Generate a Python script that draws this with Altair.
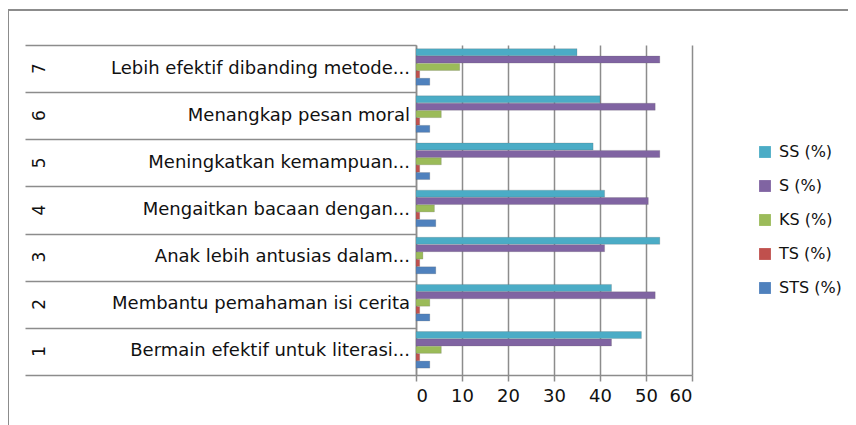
import altair as alt
import pandas as pd

nomor = ["1", "2", "3", "4", "5", "6", "7"]
pernyataan = [
    "Bermain efektif untuk literasi...",
    "Membantu pemahaman isi cerita",
    "Anak lebih antusias dalam...",
    "Mengaitkan bacaan dengan...",
    "Meningkatkan kemampuan...",
    "Menangkap pesan moral",
    "Lebih efektif dibanding metode...",
]
seri = ["SS (%)", "S (%)", "KS (%)", "TS (%)", "STS (%)"]
ss = [49, 42.5, 53, 41, 38.5, 40, 35]
s = [42.5, 52, 41, 50.5, 53, 52, 53]
ks = [5.5, 3, 1.5, 4, 5.5, 5.5, 9.5]
ts = [0.8, 0.8, 0.8, 0.8, 0.8, 0.8, 0.8]
sts = [3, 3, 4.3, 4.3, 3, 3, 3]
warna = ["#4BACC6", "#8064A2", "#9BBB59", "#C0504D", "#4F81BD"]
ticks_x = [0, 10, 20, 30, 40, 50, 60]

rows = []
for name, vals in zip(seri, [ss, s, ks, ts, sts]):
    for no, v in zip(nomor, vals):
        rows.append({"no": no, "seri": name, "nilai": v})
df = pd.DataFrame(rows)
df_cat = pd.DataFrame({"no": nomor, "nama": pernyataan})

FONT = "DejaVu Sans"
GRAY = "#8c8c8c"
order_y = nomor[::-1]

y_enc = alt.Y("no:N", sort=order_y, scale=alt.Scale(paddingInner=0, paddingOuter=0),
              axis=alt.Axis(labels=False, tickBand="extent", tickSize=391, tickColor=GRAY,
                            tickWidth=1.5, domainColor=GRAY, domainWidth=1.5, title=None, grid=False))

bars = alt.Chart(df).mark_bar(strokeWidth=0.6, stroke="#5a5a5a", strokeOpacity=0.35).encode(
    x=alt.X("nilai:Q", scale=alt.Scale(domain=[0, 60], nice=False),
            axis=alt.Axis(values=ticks_x, grid=True, gridColor=GRAY, gridWidth=1.5,
                          domainColor=GRAY, domainWidth=1.5, tickColor=GRAY, tickWidth=1.5,
                          tickSize=6, labelFontSize=18, labelFont=FONT, labelColor="#111",
                          labelPadding=6, title=None)),
    y=y_enc,
    yOffset=alt.YOffset("seri:N", sort=seri,
                        scale=alt.Scale(paddingInner=0.05, paddingOuter=0.72, align=0.35)),
    color=alt.Color("seri:N", sort=seri, scale=alt.Scale(domain=seri, range=warna),
                    legend=alt.Legend(title=None, orient="none", legendX=341, legendY=99,
                                      symbolType="square", symbolSize=140, symbolStrokeWidth=0,
                                      labelFontSize=16, labelFont=FONT, labelColor="#111",
                                      rowPadding=18, labelOffset=6)),
)

names = alt.Chart(df_cat).mark_text(align="right", baseline="middle", fontSize=18,
                                    font=FONT, color="#111").encode(
    y=alt.Y("no:N", sort=order_y), x=alt.value(-6), text="nama:N")

nums = alt.Chart(df_cat).mark_text(align="center", baseline="middle", fontSize=17,
                                   font=FONT, color="#111", angle=270).encode(
    y=alt.Y("no:N", sort=order_y), x=alt.value(-376), text="no:N")

border_left = alt.Chart(df_cat).mark_rule(color=GRAY, strokeWidth=2).encode(
    x=alt.value(-408), y=alt.value(-35), y2=alt.value(380))
border_top = alt.Chart(df_cat).mark_rule(color=GRAY, strokeWidth=2).encode(
    x=alt.value(-408), x2=alt.value(440), y=alt.value(-35))

chart = alt.layer(bars, names, nums, border_left, border_top).properties(
    width=276, height=330,
    padding={"left": 408, "top": 37, "right": 156, "bottom": 50},
    autosize=alt.AutoSizeParams(type="none"),
).configure_view(strokeWidth=0)

chart.save("out.html", embed_options={"renderer": "svg", "actions": False})
